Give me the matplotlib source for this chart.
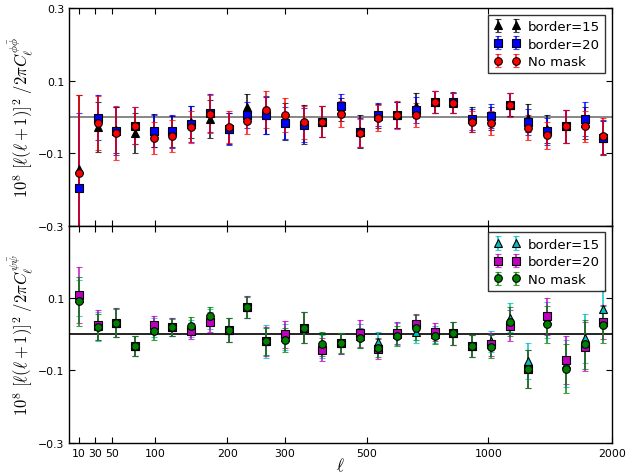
import numpy as np
import matplotlib
matplotlib.use("Agg")
import matplotlib.pyplot as plt
from matplotlib.ticker import FixedLocator, FixedFormatter, NullLocator

plt.rcParams['mathtext.fontset'] = 'cm'

# bin centres in ell
ell_bins = [10, 33, 55, 77, 98, 124, 150, 175, 202, 234, 267, 300, 341, 385, 430,
            478, 538, 605, 680, 760, 840, 925, 1012, 1140, 1280, 1430, 1580, 1750, 1920]
ell_ticks = [10, 30, 50, 100, 200, 300, 500, 1000, 2000]
y_ticks = [-0.3, -0.1, 0.1, 0.3]

# top panel: phi cross spectrum
phi_b15 = [-0.143, -0.028, -0.037, -0.044, -0.038, -0.040, -0.013, -0.006, -0.033, 0.027,
           0.004, -0.013, -0.020, -0.013, 0.020, -0.040, 0.002, 0.006, 0.031, 0.040,
           0.039, -0.007, -0.005, 0.034, -0.004, -0.033, -0.026, -0.018, -0.057]
phi_b20 = [-0.196, -0.002, -0.039, -0.024, -0.039, -0.040, -0.019, 0.010, -0.033, 0.004,
           0.005, -0.017, -0.022, -0.013, 0.031, -0.042, 0.006, 0.006, 0.019, 0.040,
           0.040, -0.007, 0.002, 0.034, -0.015, -0.040, -0.026, -0.006, -0.057]
phi_nm = [-0.155, -0.017, -0.045, -0.024, -0.058, -0.053, -0.028, 0.008, -0.028, -0.011,
          0.020, 0.005, -0.015, -0.013, 0.008, -0.044, -0.004, 0.006, 0.005, 0.040,
          0.039, -0.013, -0.017, 0.034, -0.030, -0.051, -0.026, -0.026, -0.054]
phi_b15_err = [0.202, 0.070, 0.063, 0.056, 0.046, 0.042, 0.044, 0.052, 0.043, 0.036,
               0.050, 0.052, 0.054, 0.042, 0.032, 0.045, 0.034, 0.036, 0.034, 0.030,
               0.028, 0.034, 0.032, 0.032, 0.039, 0.039, 0.046, 0.044, 0.045]
phi_b20_err = [0.207, 0.062, 0.065, 0.050, 0.044, 0.046, 0.049, 0.053, 0.044, 0.036,
               0.052, 0.044, 0.046, 0.042, 0.032, 0.040, 0.032, 0.036, 0.036, 0.030,
               0.028, 0.030, 0.033, 0.032, 0.036, 0.038, 0.046, 0.046, 0.047]
phi_nm_err = [0.216, 0.074, 0.074, 0.050, 0.045, 0.043, 0.045, 0.053, 0.045, 0.036,
              0.050, 0.047, 0.046, 0.042, 0.035, 0.038, 0.036, 0.039, 0.033, 0.030,
              0.028, 0.029, 0.033, 0.033, 0.035, 0.037, 0.046, 0.042, 0.050]

# bottom panel: psi cross spectrum
psi_b15 = [0.100, 0.022, 0.032, -0.033, 0.018, 0.019, 0.015, 0.042, 0.012, 0.075,
           -0.020, -0.008, 0.018, -0.035, -0.025, -0.005, -0.021, 0.000, 0.006, 0.000,
           0.002, -0.032, -0.020, 0.046, -0.075, 0.040, -0.082, -0.011, 0.071]
psi_b20 = [0.108, 0.026, 0.032, -0.033, 0.025, 0.019, 0.008, 0.034, 0.012, 0.075,
           -0.020, 0.000, 0.018, -0.043, -0.025, 0.002, -0.040, 0.003, 0.029, 0.006,
           0.002, -0.032, -0.028, 0.023, -0.096, 0.049, -0.072, -0.035, 0.035]
psi_nm = [0.091, 0.020, 0.032, -0.032, 0.009, 0.019, 0.023, 0.049, 0.012, 0.075,
          -0.020, -0.016, 0.018, -0.028, -0.025, -0.011, -0.037, -0.005, 0.018, -0.005,
          0.002, -0.032, -0.034, 0.035, -0.096, 0.027, -0.095, -0.028, 0.026]
psi_b15_err = [0.050, 0.040, 0.040, 0.027, 0.026, 0.025, 0.024, 0.027, 0.034, 0.030,
               0.046, 0.035, 0.043, 0.032, 0.029, 0.032, 0.027, 0.030, 0.030, 0.024,
               0.033, 0.030, 0.030, 0.039, 0.050, 0.050, 0.065, 0.068, 0.050]
psi_b20_err = [0.078, 0.041, 0.040, 0.027, 0.025, 0.025, 0.022, 0.028, 0.034, 0.030,
               0.040, 0.037, 0.043, 0.032, 0.029, 0.036, 0.028, 0.030, 0.028, 0.024,
               0.033, 0.030, 0.032, 0.043, 0.053, 0.050, 0.067, 0.068, 0.047]
psi_nm_err = [0.067, 0.036, 0.039, 0.027, 0.026, 0.024, 0.025, 0.026, 0.033, 0.029,
              0.038, 0.034, 0.043, 0.033, 0.028, 0.028, 0.027, 0.028, 0.035, 0.023,
              0.032, 0.030, 0.032, 0.039, 0.053, 0.052, 0.067, 0.068, 0.051]

labels = ['border=15', 'border=20', 'No mask']

# x axis is evenly spaced in bin number, labelled in ell
ell_arr = np.array(ell_bins, float)
ell_ext = np.concatenate([[2 * ell_arr[0] - ell_arr[1]], ell_arr, [2 * ell_arr[-1] - ell_arr[-2]]])
idx_ext = np.arange(-1, len(ell_arr) + 1, dtype=float)


def forward(l):
    return np.interp(l, ell_ext, idx_ext)


def inverse(x):
    return np.interp(x, idx_ext, ell_ext)


fig = plt.figure(figsize=(6.28, 4.77), dpi=100)
ax1 = fig.add_axes([0.110, 0.5247, 0.8646, 0.4564])
ax2 = fig.add_axes([0.110, 0.0698, 0.8646, 0.4549])


def draw(ax, series, errs, colors, markers, zero_col):
    ax.set_xscale('function', functions=(forward, inverse))
    ax.axhline(0, color=zero_col, lw=1.2, zorder=1)
    for y, e, c, m, lab in zip(series, errs, colors, markers, labels):
        cont = ax.errorbar(ell_bins, y, yerr=e, fmt=m, color=c, ecolor=c, mec='k', mew=0.8,
                           ms=5.5, elinewidth=1.4, capsize=2.4, capthick=1.1, label=lab)
        for art in cont[1] + cont[2]:
            art.set_alpha(0.75)
    ax.set_xlim(-2, 2000)
    ax.set_ylim(-0.3, 0.3)
    ax.xaxis.set_major_locator(FixedLocator(ell_ticks))
    ax.xaxis.set_minor_locator(NullLocator())
    ax.yaxis.set_major_locator(FixedLocator(y_ticks))
    ax.tick_params(direction='in', top=True, right=True, length=4.5, width=0.8, labelsize=7.8)
    for s in ax.spines.values():
        s.set_linewidth(1.0)
    leg = ax.legend(loc='upper right', numpoints=2, fontsize=9.5, fancybox=False,
                    borderaxespad=0.5, handletextpad=0.6, labelspacing=0.35)
    leg.get_frame().set_edgecolor('k')
    leg.get_frame().set_linewidth(1.0)


draw(ax1, [phi_b15, phi_b20, phi_nm], [phi_b15_err, phi_b20_err, phi_nm_err],
     ['k', 'b', 'r'], ['^', 's', 'o'], '0.45')
draw(ax2, [psi_b15, psi_b20, psi_nm], [psi_b15_err, psi_b20_err, psi_nm_err],
     ['c', 'm', 'g'], ['^', 's', 'o'], 'k')

ax1.yaxis.set_major_formatter(FixedFormatter(['\u22120.3', '\u22120.1', '0.1', '0.3']))
ax2.yaxis.set_major_formatter(FixedFormatter(['\u22120.3', '\u22120.1', '0.1', '']))
ax1.tick_params(labelbottom=False)
ax2.xaxis.set_major_formatter(FixedFormatter([str(t) for t in ell_ticks]))

ax1.set_ylabel(r'$10^8\ [\ell(\ell+1)]^2\ /2\pi C_\ell^{\phi\bar{\phi}}$', fontsize=12, labelpad=2)
ax2.set_ylabel(r'$10^8\ [\ell(\ell+1)]^2\ /2\pi C_\ell^{\psi\bar{\psi}}$', fontsize=12, labelpad=2)
ax2.set_xlabel(r'$\ell$', fontsize=12, labelpad=-1)

fig.savefig('out.png', dpi=100)
